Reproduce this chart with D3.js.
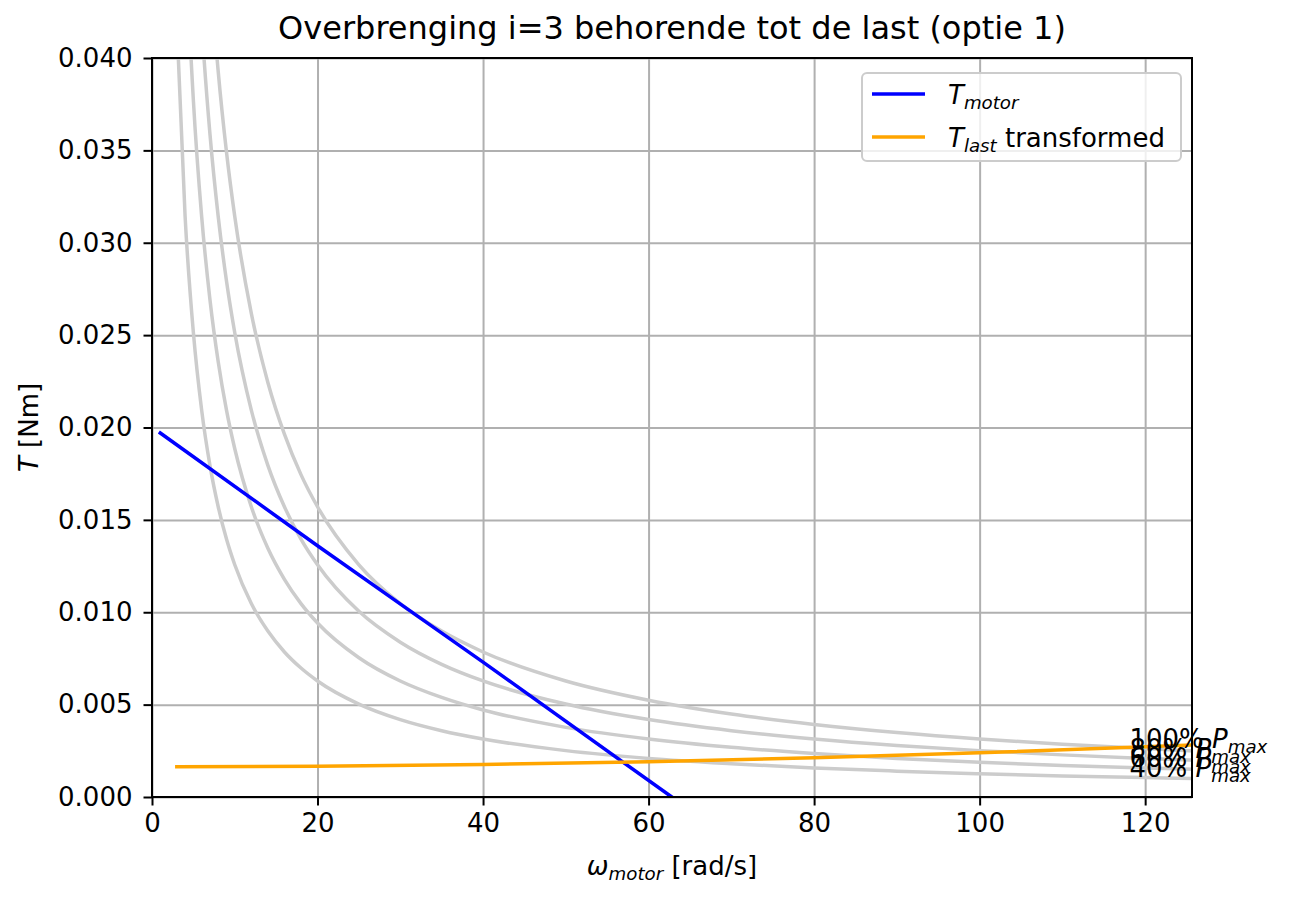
<!DOCTYPE html>
<html>
<head>
<meta charset="utf-8">
<script src="https://cdn.jsdelivr.net/npm/d3@7"></script>
<style>
  body { margin: 0; background: #fff; }
  svg { font-family: "DejaVu Sans", sans-serif; }
</style>
</head>
<body>
<div id="container"></div>
<script>
// motor torque line
var omegaMotor = [1, 20, 40, 62.8];
var torqueMotor = [0.0197, 0.0136, 0.0073, 0.0];

// load torque, transformed to the motor side
var omegaLoad = [3, 20, 40, 60, 80, 100, 120, 125.7];
var torqueLoad = [0.00164, 0.00167, 0.00176, 0.00191, 0.00212, 0.00239, 0.00272, 0.00282];

// constant-power curves (share of P_max)
var omegaPower = [3, 4, 5, 6, 7, 8, 9, 10, 12, 14, 16, 18, 20, 25, 30, 35, 40, 50, 60, 70, 80, 90, 100, 110, 120, 125.7];
var powerLabels = ["100%", "80%", "60%", "40%"];
var torquePower = [
  [0.10472, 0.07854, 0.06283, 0.05236, 0.04488, 0.03927, 0.03491, 0.03142, 0.02618, 0.02244, 0.01964, 0.01745, 0.01571, 0.01257, 0.01047, 0.00898, 0.00785, 0.00628, 0.00524, 0.00449, 0.00393, 0.00349, 0.00314, 0.00286, 0.00262, 0.00250],
  [0.08378, 0.06283, 0.05027, 0.04189, 0.03590, 0.03142, 0.02793, 0.02513, 0.02094, 0.01795, 0.01571, 0.01396, 0.01257, 0.01005, 0.00838, 0.00718, 0.00628, 0.00503, 0.00419, 0.00359, 0.00314, 0.00279, 0.00251, 0.00228, 0.00209, 0.00200],
  [0.06283, 0.04712, 0.03770, 0.03142, 0.02693, 0.02356, 0.02094, 0.01885, 0.01571, 0.01346, 0.01178, 0.01047, 0.00942, 0.00754, 0.00628, 0.00539, 0.00471, 0.00377, 0.00314, 0.00269, 0.00236, 0.00209, 0.00188, 0.00171, 0.00157, 0.00150],
  [0.04189, 0.03142, 0.02513, 0.02094, 0.01795, 0.01571, 0.01396, 0.01257, 0.01047, 0.00898, 0.00785, 0.00698, 0.00628, 0.00503, 0.00419, 0.00359, 0.00314, 0.00251, 0.00209, 0.00180, 0.00157, 0.00140, 0.00126, 0.00114, 0.00105, 0.00100]
];
var labelOmega = 118.1;
var labelTorque = [0.00266, 0.00213, 0.00160, 0.00107];

var xTicks = [0, 20, 40, 60, 80, 100, 120];
var yTicks = [0, 0.005, 0.010, 0.015, 0.020, 0.025, 0.030, 0.035, 0.040];

var margin = {top: 58, right: 98, bottom: 103, left: 152},
  width = 1290 - margin.left - margin.right,
  height = 900 - margin.top - margin.bottom;

var fs = 26;

var svg = d3.select("#container")
    .append("svg")
    .attr("width", 1290)
    .attr("height", 900);

var g = svg.append("g")
    .attr("transform", "translate(" + margin.left + "," + margin.top + ")");

var x = d3.scaleLinear().domain([0, 125.66]).range([0, width]);
var y = d3.scaleLinear().domain([0, 0.04]).range([height, 0]);

svg.append("defs").append("clipPath")
    .attr("id", "plotclip")
    .append("rect")
    .attr("width", width)
    .attr("height", height);

// grid
g.append("g")
    .attr("transform", "translate(0," + height + ")")
    .call(d3.axisBottom(x).tickValues(xTicks).tickSize(-height).tickFormat(""))
    .call(function(a) { a.select(".domain").remove(); })
    .selectAll("line").attr("stroke", "#b0b0b0").attr("stroke-width", 2);

g.append("g")
    .call(d3.axisLeft(y).tickValues(yTicks).tickSize(-width).tickFormat(""))
    .call(function(a) { a.select(".domain").remove(); })
    .selectAll("line").attr("stroke", "#b0b0b0").attr("stroke-width", 2);

var plot = g.append("g").attr("clip-path", "url(#plotclip)");

var line = d3.line()
    .x(function(d) { return x(d[0]); })
    .y(function(d) { return y(d[1]); })
    .curve(d3.curveMonotoneX);

// power curves
torquePower.forEach(function(vals) {
    plot.append("path")
        .datum(d3.zip(omegaPower, vals))
        .attr("d", line)
        .attr("fill", "none")
        .attr("stroke", "#cccccc")
        .attr("stroke-width", 3.5);
});

plot.append("path")
    .datum(d3.zip(omegaMotor, torqueMotor))
    .attr("d", line)
    .attr("fill", "none")
    .attr("stroke", "blue")
    .attr("stroke-width", 3.5)
    .attr("stroke-linecap", "square");

plot.append("path")
    .datum(d3.zip(omegaLoad, torqueLoad))
    .attr("d", line)
    .attr("fill", "none")
    .attr("stroke", "orange")
    .attr("stroke-width", 3.5)
    .attr("stroke-linecap", "square");

// curve labels
powerLabels.forEach(function(lab, i) {
    var t = g.append("text")
        .attr("x", x(labelOmega))
        .attr("y", y(labelTorque[i]))
        .attr("font-size", fs)
        .attr("fill", "black");
    t.append("tspan").text(lab + " ");
    t.append("tspan").attr("font-style", "italic").text("P");
    t.append("tspan").attr("font-style", "italic").attr("font-size", fs * 0.7)
        .attr("dy", fs * 0.2).text("max");
});

// axes
var xAxis = g.append("g")
    .attr("transform", "translate(0," + height + ")")
    .call(d3.axisBottom(x).tickValues(xTicks).tickSize(8.5).tickPadding(8));
var yAxis = g.append("g")
    .call(d3.axisLeft(y).tickValues(yTicks).tickSize(8.5).tickPadding(11).tickFormat(d3.format(".3f")));

[xAxis, yAxis].forEach(function(a) {
    a.select(".domain").remove();
    a.selectAll("line").attr("stroke", "black").attr("stroke-width", 2);
    a.selectAll("text").attr("font-size", fs).attr("font-family", "DejaVu Sans").attr("fill", "black");
});

// spines
g.append("rect")
    .attr("width", width)
    .attr("height", height)
    .attr("fill", "none")
    .attr("stroke", "black")
    .attr("stroke-width", 2);

// title
svg.append("text")
    .attr("x", margin.left + width / 2)
    .attr("y", 39)
    .attr("text-anchor", "middle")
    .attr("font-size", 32)
    .text("Overbrenging i=3 behorende tot de last (optie 1)");

// x label
var xl = svg.append("text")
    .attr("x", margin.left + width / 2)
    .attr("y", 875)
    .attr("text-anchor", "middle")
    .attr("font-size", fs);
xl.append("tspan").attr("font-style", "italic").text("ω");
xl.append("tspan").attr("font-style", "italic").attr("font-size", fs * 0.7).attr("dy", fs * 0.2).text("motor");
xl.append("tspan").attr("dy", -fs * 0.2).text(" [rad/s]");

// y label
var yl = svg.append("text")
    .attr("transform", "translate(38," + (margin.top + height / 2) + ") rotate(-90)")
    .attr("text-anchor", "middle")
    .attr("font-size", fs);
yl.append("tspan").attr("font-style", "italic").text("T");
yl.append("tspan").text(" [Nm]");

// legend
var legend = svg.append("g");
legend.append("rect")
    .attr("x", 862).attr("y", 73)
    .attr("width", 319).attr("height", 88)
    .attr("rx", 5)
    .attr("fill", "white").attr("fill-opacity", 0.8)
    .attr("stroke", "#cccccc").attr("stroke-width", 2);

var legendItems = [
    {color: "blue", sub: "motor", rest: ""},
    {color: "orange", sub: "last", rest: " transformed"}
];
legendItems.forEach(function(d, i) {
    var cy = 94 + i * 43;
    legend.append("line")
        .attr("x1", 872).attr("x2", 925)
        .attr("y1", cy).attr("y2", cy)
        .attr("stroke", d.color).attr("stroke-width", 3.5);
    var t = legend.append("text")
        .attr("x", 948).attr("y", cy + 10)
        .attr("font-size", fs);
    t.append("tspan").attr("font-style", "italic").text("T");
    t.append("tspan").attr("font-style", "italic").attr("font-size", fs * 0.7).attr("dy", fs * 0.2).text(d.sub);
    if (d.rest) t.append("tspan").attr("dy", -fs * 0.2).text(d.rest);
});
</script>
</body>
</html>
